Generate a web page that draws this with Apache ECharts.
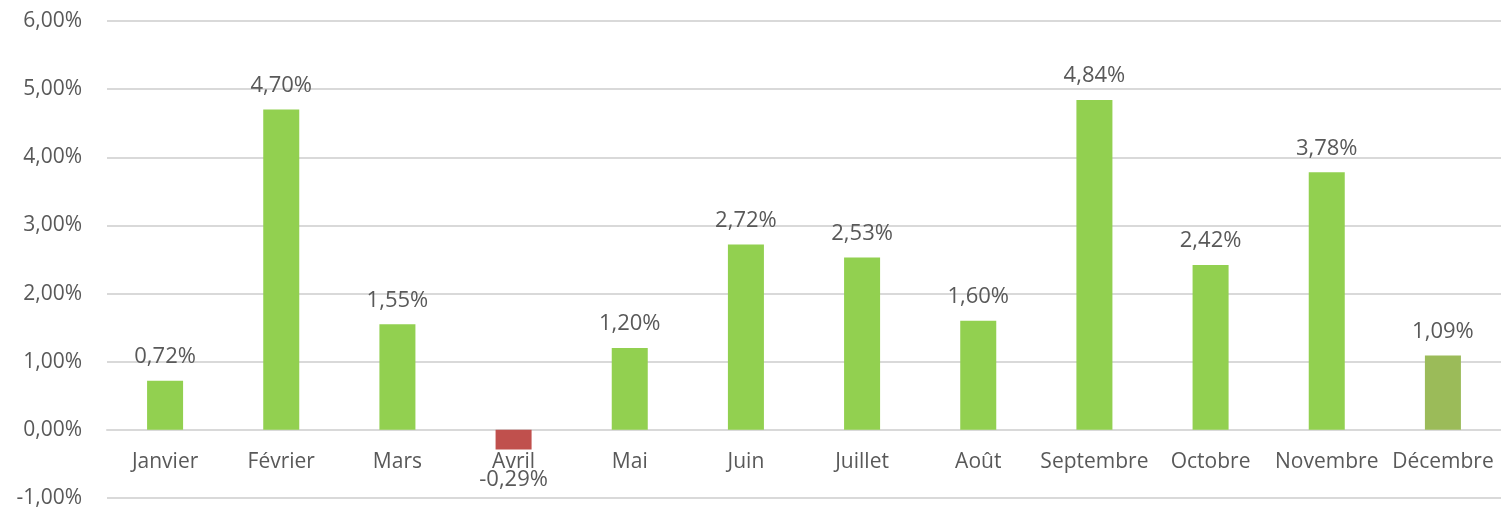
<!DOCTYPE html>
<html>
<head>
<meta charset="utf-8">
<script src="https://cdn.jsdelivr.net/npm/echarts@6/dist/echarts.min.js"></script>
<style>
  html, body { margin: 0; padding: 0; background: #fff; }
  #chart { width: 1501px; height: 509px; }
</style>
</head>
<body>
<div id="chart"></div>
<script>
// mois et variation mensuelle (%)
var months = ['Janvier', 'Février', 'Mars', 'Avril', 'Mai', 'Juin', 'Juillet', 'Août', 'Septembre', 'Octobre', 'Novembre', 'Décembre'];
var values = [0.72, 4.70, 1.55, -0.29, 1.20, 2.72, 2.53, 1.60, 4.84, 2.42, 3.78, 1.09];
var yTicks = [-1, 0, 1, 2, 3, 4, 5, 6];

function fmt(v) {
  return v.toFixed(2).replace('.', ',') + '%';
}

var chart = echarts.init(document.getElementById('chart'));

var barData = values.map(function(v, i) {
  var item = { value: v, itemStyle: { color: '#92D050' } };
  if (v < 0) {
    item.itemStyle.color = '#C0504D';
    item.label = { position: 'bottom', distance: 19 };
  }
  if (i == values.length - 1) {
    item.itemStyle.color = '#9BBB59'; // dernier mois, vert plus foncé
  }
  return item;
});

chart.setOption({
  animation: false,
  grid: { left: 107, right: 0, top: 21, bottom: 11, outerBoundsMode: 'none', containLabel: false },
  xAxis: {
    type: 'category',
    data: months,
    axisLine: { show: true, onZero: true, lineStyle: { color: '#d9d9d9', width: 2 } },
    axisTick: { show: false },
    axisLabel: {
      color: '#595959',
      fontSize: 21,
      fontFamily: 'Open Sans',
      margin: -46,
      interval: 0
    }
  },
  yAxis: {
    type: 'value',
    min: yTicks[0],
    max: yTicks[yTicks.length - 1],
    interval: 1,
    axisLine: { show: false },
    axisTick: { show: false },
    splitLine: { lineStyle: { color: '#d9d9d9', width: 2 } },
    axisLabel: {
      color: '#595959',
      fontSize: 21,
      fontFamily: 'Open Sans',
      margin: 25,
      formatter: function(v) { return fmt(v); }
    }
  },
  series: [{
    type: 'bar',
    data: barData,
    barWidth: '31%',
    label: {
      show: true,
      position: 'top',
      distance: 13,
      color: '#595959',
      fontSize: 22,
      fontFamily: 'Open Sans',
      formatter: function(p) { return fmt(p.value); }
    }
  }]
});
</script>
</body>
</html>
